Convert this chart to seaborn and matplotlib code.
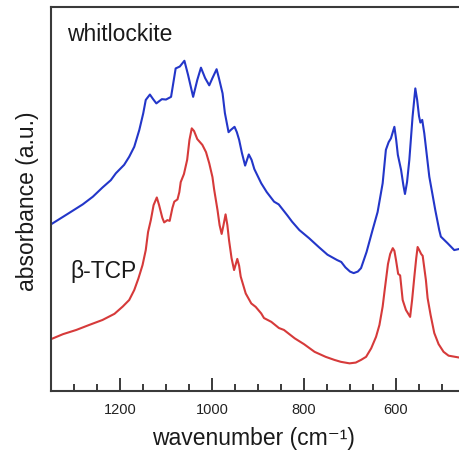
import matplotlib
matplotlib.use("Agg")
import matplotlib.pyplot as plt
from matplotlib.ticker import MultipleLocator
import seaborn as sns
import pandas as pd

# ---- data ----
whit_wn = [1350, 1314, 1281, 1259, 1238, 1220, 1209, 1191, 1180, 1169, 1158, 1149.5,
           1144, 1135, 1128, 1121, 1109, 1100,
           1089, 1079, 1070, 1060, 1052, 1041, 1032, 1024, 1015, 1006, 999, 990,
           985, 977, 972, 964, 959, 951, 946, 941, 935, 928, 920, 914, 908, 893,
           881, 865, 855, 836, 826, 810, 789, 768, 749, 728, 719, 710, 700, 692,
           683, 676, 664, 651, 640, 629, 622, 616, 611, 603.5, 599.6, 596, 589,
           584, 580.5, 576, 571, 564, 558, 554, 550, 547, 543, 538.5, 527.6,
           520.4, 514.6, 506, 502.5, 488, 473.4, 462]
whit_abs = [0.434, 0.461, 0.486, 0.506, 0.530, 0.549, 0.567, 0.589, 0.610, 0.636,
            0.680, 0.723, 0.758, 0.772, 0.760, 0.749,
            0.760, 0.759, 0.766, 0.840, 0.845, 0.860, 0.823, 0.766, 0.810, 0.842,
            0.815, 0.796, 0.815, 0.838, 0.815, 0.775, 0.724, 0.674, 0.680, 0.688,
            0.674, 0.654, 0.620, 0.587, 0.616, 0.602, 0.578, 0.541, 0.518, 0.493,
            0.486, 0.457, 0.441, 0.419, 0.398, 0.375, 0.355, 0.341, 0.336, 0.322,
            0.311, 0.307, 0.311, 0.320, 0.362, 0.419, 0.466, 0.541, 0.628, 0.648,
            0.658, 0.688, 0.654, 0.615, 0.576, 0.536, 0.513, 0.544, 0.602, 0.714,
            0.788, 0.758, 0.716, 0.699, 0.706, 0.671, 0.558, 0.510, 0.471, 0.419,
            0.402, 0.385, 0.367, 0.370]

tcp_wn = [1350, 1324, 1295, 1267, 1238, 1212, 1194, 1180, 1169, 1160, 1151, 1144,
          1139, 1133, 1127,
          1120, 1115, 1108, 1104, 1097, 1092, 1086, 1082, 1075, 1071, 1068, 1061,
          1054, 1049, 1044, 1039, 1032, 1021, 1013, 1006, 999, 995.5, 988, 983.5,
          979, 975, 970.5, 966.6, 963, 957.5, 952, 945, 941, 937.6, 926.7, 914.6,
          905, 893, 887, 871, 854.5, 843.6, 820, 800, 777, 753, 734, 720, 701,
          687.5, 676, 665, 654, 643.4, 636, 629, 624.6, 617.4, 612.6, 607, 603.5,
          600, 595.3, 591, 585.5, 578.4, 569.3, 565, 560, 556, 553, 548.6, 545.4,
          542, 535, 531.3, 524.8, 516.8, 507.4, 496.6, 485.7, 462]
tcp_abs = [0.135, 0.148, 0.159, 0.172, 0.185, 0.201, 0.220, 0.237, 0.263, 0.293,
           0.328, 0.367, 0.414, 0.445, 0.484,
           0.504, 0.484, 0.451, 0.439, 0.445, 0.443, 0.477, 0.493,
           0.499, 0.518, 0.544, 0.565, 0.602, 0.654, 0.684, 0.677, 0.656, 0.641,
           0.622, 0.593, 0.557, 0.526, 0.471, 0.432, 0.409, 0.432, 0.460, 0.432,
           0.393, 0.346, 0.315, 0.344, 0.326, 0.298, 0.254, 0.228, 0.219, 0.202,
           0.190, 0.180, 0.164, 0.159, 0.137, 0.122, 0.102, 0.089, 0.081, 0.076,
           0.072, 0.074, 0.081, 0.089, 0.111, 0.141, 0.172, 0.220, 0.263, 0.331,
           0.357, 0.372, 0.365, 0.341, 0.305, 0.301, 0.237, 0.211, 0.193, 0.237,
           0.299, 0.346, 0.375, 0.365, 0.357, 0.352, 0.289, 0.242, 0.198, 0.151,
           0.122, 0.102, 0.092, 0.087]

labels = ["whitlockite", "β-TCP"]
x_ticks = [1200, 1000, 800, 600]

# ---- style ----
sns.set_style("ticks")
plt.rcParams["font.family"] = ["Liberation Sans", "DejaVu Sans"]

fig = plt.figure(figsize=(4.59, 4.53), dpi=100)
W, H = 459, 453
ax = fig.add_axes([51 / W, (H - 391) / H, (465 - 51) / W, 384 / H])

blue = "#2336c9"
red = "#d63a3a"
df_w = pd.DataFrame({"wn": whit_wn, "a": whit_abs})
df_t = pd.DataFrame({"wn": tcp_wn, "a": tcp_abs})
sns.lineplot(data=df_w, x="wn", y="a", color=blue, lw=1.5, ax=ax, estimator=None)
sns.lineplot(data=df_t, x="wn", y="a", color=red, lw=1.5, ax=ax, estimator=None)

ax.set_xlim(1350, 450)
ax.set_ylim(0, 1)
ax.set_xticks(x_ticks)
ax.xaxis.set_minor_locator(MultipleLocator(50))
ax.set_yticks([])

spine_c = "#3a3a3a"
for s in ["left", "bottom", "top"]:
    ax.spines[s].set_visible(True)
    ax.spines[s].set_color(spine_c)
    ax.spines[s].set_linewidth(1.5)
ax.spines["right"].set_visible(False)

ax.tick_params(axis="x", which="major", direction="in", length=9.5, width=1.4,
               color=spine_c, labelsize=10.5, pad=9, labelcolor="#222222",
               top=False)
ax.tick_params(axis="x", which="minor", direction="in", length=5, width=1.4,
               color=spine_c, top=False)

ax.set_xlabel("wavenumber (cm⁻¹)", fontsize=16.5, color="#1a1a1a")
ax.set_ylabel("absorbance (a.u.)", fontsize=16.5, color="#1a1a1a")
ax.xaxis.set_label_coords(0.49, -0.093)
ax.yaxis.set_label_coords(-0.028, 0.495)

ax.text(16 / 414, (391 - 41) / 384, labels[0], transform=ax.transAxes,
        fontsize=16.5, va="baseline", ha="left", color="#1a1a1a")
ax.text(19 / 414, (391 - 278) / 384, labels[1], transform=ax.transAxes,
        fontsize=16.5, va="baseline", ha="left", color="#1a1a1a")

fig.savefig("out.png", dpi=100)
